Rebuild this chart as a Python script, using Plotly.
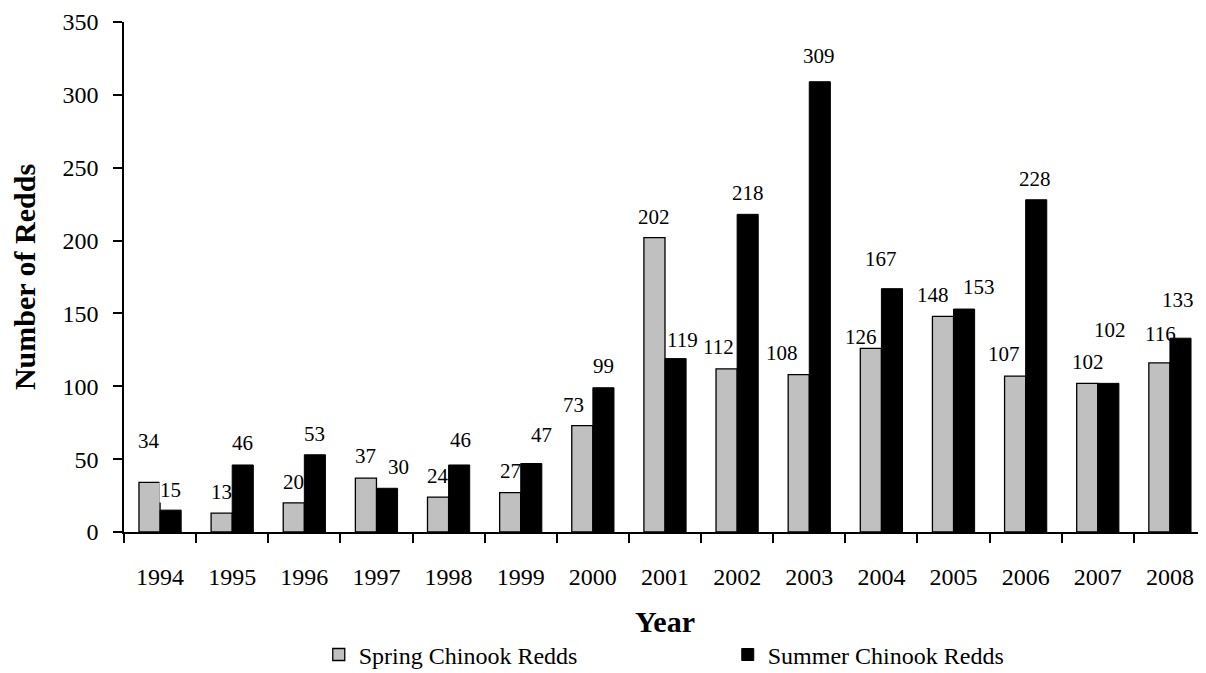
import plotly.graph_objects as go

years = ["1994", "1995", "1996", "1997", "1998", "1999", "2000", "2001",
         "2002", "2003", "2004", "2005", "2006", "2007", "2008"]
spring = [34, 13, 20, 37, 24, 27, 73, 202, 112, 108, 126, 148, 107, 102, 116]
summer = [15, 46, 53, 30, 46, 47, 99, 119, 218, 309, 167, 153, 228, 102, 133]

# label offsets (pixels) relative to the bar top-centre: (dx, dy up)
spring_dx = [-1, 0, 0, 0, 0, 0, -9, 0, -8, -17, -10, -10, -11, 1, 1]
spring_dy = [41, 21, 21, 22, 21, 22, 21, 21, 22, 22, 11, 21, 22, 21, 29]
summer_dx = [0, 0, 0, 11, 1, 10, 0, 7, 0, -1, -11, 15, -1, 2, -2]
summer_dy = [20, 22, 21, 21, 25, 29, 22, 19, 21, 26, 30, 22, 21, 53, 38]
# summer labels whose white background hides the neighbouring bar's edge
summer_bg = [True, False, False, False, False, False, False, True,
             False, False, False, False, False, False, False]

FONT = "Liberation Serif"
# the page body has an 8px margin, so the figure is 8px smaller than the window
W, H = 1198, 665
ML, MR, MT, MB = 116, 0, 14, 141
BARGAP = 0.415

fig = go.Figure()
fig.add_trace(go.Bar(x=years, y=spring, name="Spring Chinook Redds",
                     marker=dict(color="#C0C0C0", line=dict(color="black", width=1.3))))
fig.add_trace(go.Bar(x=years, y=summer, name="Summer Chinook Redds",
                     marker=dict(color="black", line=dict(color="black", width=1))))

cat_px = (W - ML - MR) / len(years)
half = cat_px * (1 - BARGAP) / 4

for i, yr in enumerate(years):
    fig.add_annotation(x=i, y=spring[i], xref="x", yref="y", text=str(spring[i]),
                       showarrow=False, xshift=-half + spring_dx[i], yshift=spring_dy[i],
                       xanchor="center", yanchor="middle", borderpad=0,
                       font=dict(family=FONT, size=21, color="black"))
    fig.add_annotation(x=i, y=summer[i], xref="x", yref="y", text=str(summer[i]),
                       showarrow=False, xshift=half + summer_dx[i], yshift=summer_dy[i],
                       xanchor="center", yanchor="middle", borderpad=0,
                       bgcolor="white" if summer_bg[i] else "rgba(0,0,0,0)",
                       font=dict(family=FONT, size=21, color="black"))

fig.update_layout(
    width=W, height=H,
    margin=dict(l=ML, r=MR, t=MT, b=MB, pad=0, autoexpand=False),
    paper_bgcolor="white", plot_bgcolor="white",
    barmode="group", bargap=BARGAP, bargroupgap=0,
    font=dict(family=FONT, size=24, color="black"),
    showlegend=True,
    legend=dict(orientation="h", x=0.18, xanchor="left", y=-0.241, yanchor="middle",
                font=dict(family=FONT, size=24, color="black"),
                entrywidth=364, entrywidthmode="pixels", itemwidth=30,
                bgcolor="rgba(0,0,0,0)", traceorder="normal"),
    xaxis=dict(type="category", range=[-0.5, 14.5], showline=True, linecolor="black",
               linewidth=1.5, ticks="outside", tickson="boundaries", ticklen=9,
               tickcolor="black", tickwidth=1.5, showgrid=False, zeroline=False,
               ticklabelstandoff=22, automargin=False,
               tickfont=dict(family=FONT, size=24),
               title=dict(text="<b>Year</b>", font=dict(family=FONT, size=30), standoff=22)),
    yaxis=dict(range=[0, 350], dtick=50, showline=True, linecolor="black", linewidth=1.5,
               ticks="outside", ticklen=9, tickcolor="black", tickwidth=1.5,
               showgrid=False, zeroline=False, ticklabelstandoff=10, automargin=False,
               tickfont=dict(family=FONT, size=24),
               title=dict(text="<b>Number of Redds</b>", font=dict(family=FONT, size=30),
                          standoff=24)),
)

fig.write_html("out.html")
